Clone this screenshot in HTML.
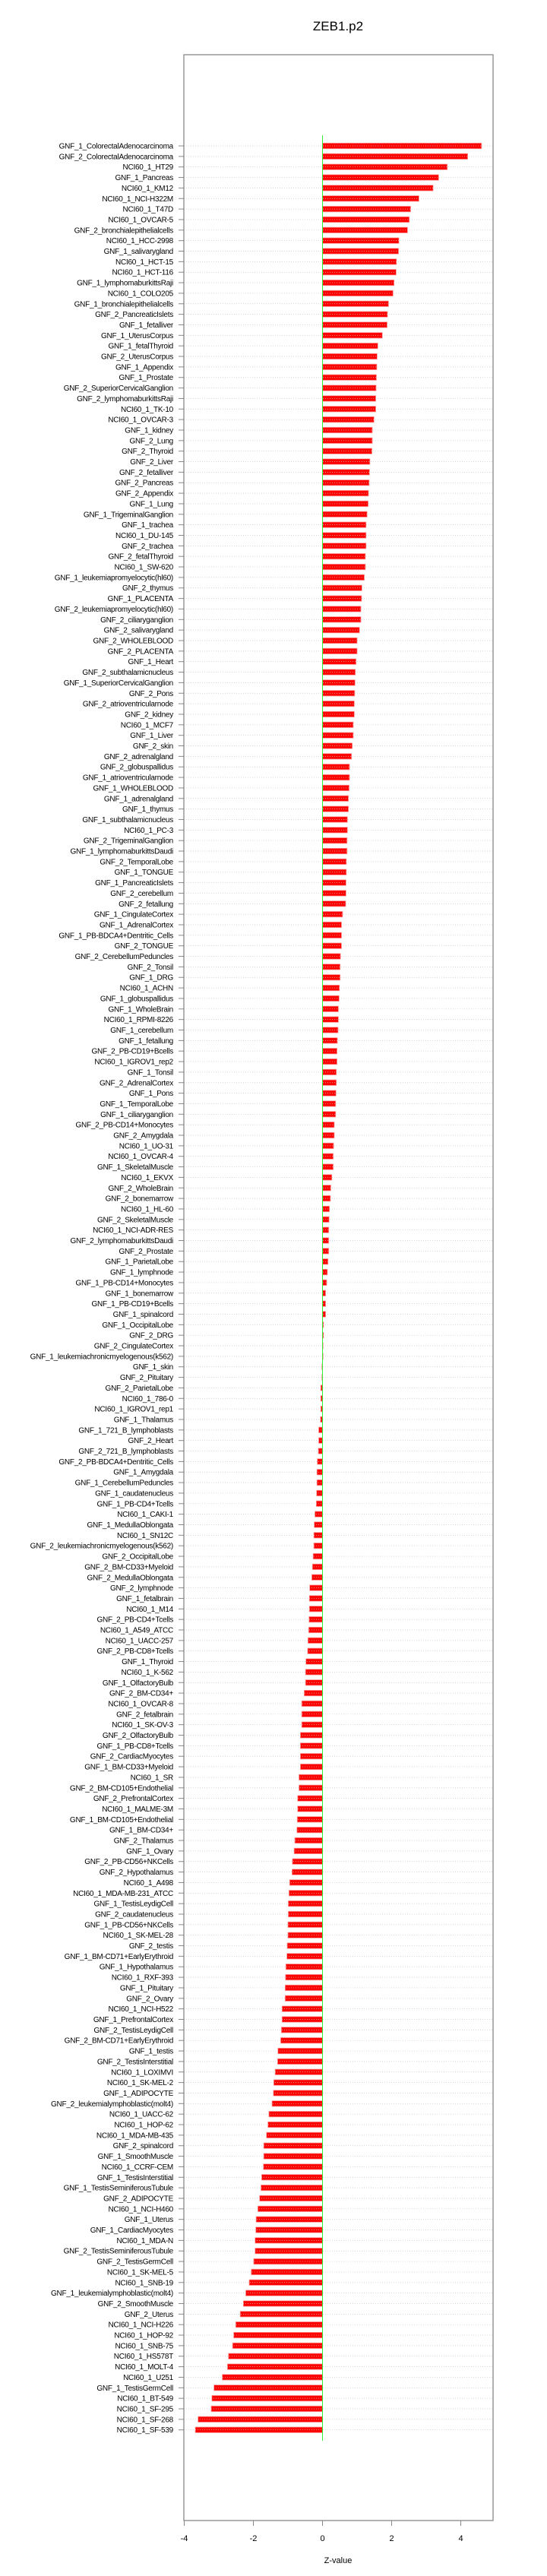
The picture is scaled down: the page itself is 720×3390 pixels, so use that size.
<!DOCTYPE html>
<html><head><meta charset="utf-8">
<style>
html,body{margin:0;padding:0;background:#fff;}
svg{display:block;font-family:"Liberation Sans",Arial,sans-serif;}
</style></head>
<body>
<svg id="chart" width="720" height="3390" viewBox="0 0 720 3390" xmlns="http://www.w3.org/2000/svg">
<text x="445" y="40" text-anchor="middle" font-size="17" fill="#000">ZEB1.p2</text>
<g id="grid"></g>
<g id="bars"></g>
<g id="labels"></g>
<g id="axis"></g>
<text x="445" y="3373" text-anchor="middle" font-size="11" fill="#000">Z-value</text>
</svg>
<script>
const categories = ["GNF_1_ColorectalAdenocarcinoma","GNF_2_ColorectalAdenocarcinoma","NCI60_1_HT29","GNF_1_Pancreas","NCI60_1_KM12","NCI60_1_NCI-H322M","NCI60_1_T47D","NCI60_1_OVCAR-5","GNF_2_bronchialepithelialcells","NCI60_1_HCC-2998","GNF_1_salivarygland","NCI60_1_HCT-15","NCI60_1_HCT-116","GNF_1_lymphomaburkittsRaji","NCI60_1_COLO205","GNF_1_bronchialepithelialcells","GNF_2_PancreaticIslets","GNF_1_fetalliver","GNF_1_UterusCorpus","GNF_1_fetalThyroid","GNF_2_UterusCorpus","GNF_1_Appendix","GNF_1_Prostate","GNF_2_SuperiorCervicalGanglion","GNF_2_lymphomaburkittsRaji","NCI60_1_TK-10","NCI60_1_OVCAR-3","GNF_1_kidney","GNF_2_Lung","GNF_2_Thyroid","GNF_2_Liver","GNF_2_fetalliver","GNF_2_Pancreas","GNF_2_Appendix","GNF_1_Lung","GNF_1_TrigeminalGanglion","GNF_1_trachea","NCI60_1_DU-145","GNF_2_trachea","GNF_2_fetalThyroid","NCI60_1_SW-620","GNF_1_leukemiapromyelocytic(hl60)","GNF_2_thymus","GNF_1_PLACENTA","GNF_2_leukemiapromyelocytic(hl60)","GNF_2_ciliaryganglion","GNF_2_salivarygland","GNF_2_WHOLEBLOOD","GNF_2_PLACENTA","GNF_1_Heart","GNF_2_subthalamicnucleus","GNF_1_SuperiorCervicalGanglion","GNF_2_Pons","GNF_2_atrioventricularnode","GNF_2_kidney","NCI60_1_MCF7","GNF_1_Liver","GNF_2_skin","GNF_2_adrenalgland","GNF_2_globuspallidus","GNF_1_atrioventricularnode","GNF_1_WHOLEBLOOD","GNF_1_adrenalgland","GNF_1_thymus","GNF_1_subthalamicnucleus","NCI60_1_PC-3","GNF_2_TrigeminalGanglion","GNF_1_lymphomaburkittsDaudi","GNF_2_TemporalLobe","GNF_1_TONGUE","GNF_1_PancreaticIslets","GNF_2_cerebellum","GNF_2_fetallung","GNF_1_CingulateCortex","GNF_1_AdrenalCortex","GNF_1_PB-BDCA4+Dentritic_Cells","GNF_2_TONGUE","GNF_2_CerebellumPeduncles","GNF_2_Tonsil","GNF_1_DRG","NCI60_1_ACHN","GNF_1_globuspallidus","GNF_1_WholeBrain","NCI60_1_RPMI-8226","GNF_1_cerebellum","GNF_1_fetallung","GNF_2_PB-CD19+Bcells","NCI60_1_IGROV1_rep2","GNF_1_Tonsil","GNF_2_AdrenalCortex","GNF_1_Pons","GNF_1_TemporalLobe","GNF_1_ciliaryganglion","GNF_2_PB-CD14+Monocytes","GNF_2_Amygdala","NCI60_1_UO-31","NCI60_1_OVCAR-4","GNF_1_SkeletalMuscle","NCI60_1_EKVX","GNF_2_WholeBrain","GNF_2_bonemarrow","NCI60_1_HL-60","GNF_2_SkeletalMuscle","NCI60_1_NCI-ADR-RES","GNF_2_lymphomaburkittsDaudi","GNF_2_Prostate","GNF_1_ParietalLobe","GNF_1_lymphnode","GNF_1_PB-CD14+Monocytes","GNF_1_bonemarrow","GNF_1_PB-CD19+Bcells","GNF_1_spinalcord","GNF_1_OccipitalLobe","GNF_2_DRG","GNF_2_CingulateCortex","GNF_1_leukemiachronicmyelogenous(k562)","GNF_1_skin","GNF_2_Pituitary","GNF_2_ParietalLobe","NCI60_1_786-0","NCI60_1_IGROV1_rep1","GNF_1_Thalamus","GNF_1_721_B_lymphoblasts","GNF_2_Heart","GNF_2_721_B_lymphoblasts","GNF_2_PB-BDCA4+Dentritic_Cells","GNF_1_Amygdala","GNF_1_CerebellumPeduncles","GNF_1_caudatenucleus","GNF_1_PB-CD4+Tcells","NCI60_1_CAKI-1","GNF_1_MedullaOblongata","NCI60_1_SN12C","GNF_2_leukemiachronicmyelogenous(k562)","GNF_2_OccipitalLobe","GNF_2_BM-CD33+Myeloid","GNF_2_MedullaOblongata","GNF_2_lymphnode","GNF_1_fetalbrain","NCI60_1_M14","GNF_2_PB-CD4+Tcells","NCI60_1_A549_ATCC","NCI60_1_UACC-257","GNF_2_PB-CD8+Tcells","GNF_1_Thyroid","NCI60_1_K-562","GNF_1_OlfactoryBulb","GNF_2_BM-CD34+","NCI60_1_OVCAR-8","GNF_2_fetalbrain","NCI60_1_SK-OV-3","GNF_2_OlfactoryBulb","GNF_1_PB-CD8+Tcells","GNF_2_CardiacMyocytes","GNF_1_BM-CD33+Myeloid","NCI60_1_SR","GNF_2_BM-CD105+Endothelial","GNF_2_PrefrontalCortex","NCI60_1_MALME-3M","GNF_1_BM-CD105+Endothelial","GNF_1_BM-CD34+","GNF_2_Thalamus","GNF_1_Ovary","GNF_2_PB-CD56+NKCells","GNF_2_Hypothalamus","NCI60_1_A498","NCI60_1_MDA-MB-231_ATCC","GNF_1_TestisLeydigCell","GNF_2_caudatenucleus","GNF_1_PB-CD56+NKCells","NCI60_1_SK-MEL-28","GNF_2_testis","GNF_1_BM-CD71+EarlyErythroid","GNF_1_Hypothalamus","NCI60_1_RXF-393","GNF_1_Pituitary","GNF_2_Ovary","NCI60_1_NCI-H522","GNF_1_PrefrontalCortex","GNF_2_TestisLeydigCell","GNF_2_BM-CD71+EarlyErythroid","GNF_1_testis","GNF_2_TestisInterstitial","NCI60_1_LOXIMVI","NCI60_1_SK-MEL-2","GNF_1_ADIPOCYTE","GNF_2_leukemialymphoblastic(molt4)","NCI60_1_UACC-62","NCI60_1_HOP-62","NCI60_1_MDA-MB-435","GNF_2_spinalcord","GNF_1_SmoothMuscle","NCI60_1_CCRF-CEM","GNF_1_TestisInterstitial","GNF_1_TestisSeminiferousTubule","GNF_2_ADIPOCYTE","NCI60_1_NCI-H460","GNF_1_Uterus","GNF_1_CardiacMyocytes","NCI60_1_MDA-N","GNF_2_TestisSeminiferousTubule","GNF_2_TestisGermCell","NCI60_1_SK-MEL-5","NCI60_1_SNB-19","GNF_1_leukemialymphoblastic(molt4)","GNF_2_SmoothMuscle","GNF_2_Uterus","NCI60_1_NCI-H226","NCI60_1_HOP-92","NCI60_1_SNB-75","NCI60_1_HS578T","NCI60_1_MOLT-4","NCI60_1_U251","GNF_1_TestisGermCell","NCI60_1_BT-549","NCI60_1_SF-295","NCI60_1_SF-268","NCI60_1_SF-539"];
const values = [4.6,4.2,3.61,3.36,3.20,2.79,2.55,2.51,2.46,2.21,2.20,2.14,2.13,2.07,2.04,1.91,1.88,1.87,1.73,1.60,1.58,1.57,1.56,1.55,1.54,1.54,1.49,1.44,1.44,1.43,1.37,1.36,1.35,1.33,1.32,1.29,1.26,1.26,1.26,1.24,1.24,1.21,1.14,1.13,1.11,1.11,1.07,1.00,1.00,0.97,0.95,0.94,0.93,0.92,0.92,0.89,0.89,0.86,0.84,0.78,0.78,0.77,0.75,0.75,0.72,0.72,0.71,0.71,0.69,0.69,0.68,0.68,0.67,0.58,0.55,0.55,0.55,0.52,0.51,0.51,0.49,0.48,0.46,0.46,0.45,0.43,0.42,0.42,0.40,0.40,0.39,0.38,0.38,0.34,0.34,0.32,0.31,0.31,0.27,0.24,0.23,0.20,0.19,0.18,0.18,0.18,0.16,0.14,0.12,0.09,0.09,0.09,0.03,0.03,0.02,0.02,-0.02,-0.02,-0.05,-0.05,-0.05,-0.06,-0.11,-0.11,-0.12,-0.15,-0.16,-0.16,-0.17,-0.18,-0.22,-0.24,-0.25,-0.25,-0.27,-0.29,-0.31,-0.37,-0.38,-0.38,-0.39,-0.40,-0.42,-0.43,-0.48,-0.49,-0.49,-0.53,-0.60,-0.60,-0.60,-0.64,-0.64,-0.64,-0.64,-0.68,-0.68,-0.72,-0.72,-0.73,-0.74,-0.80,-0.82,-0.87,-0.88,-0.95,-0.97,-0.99,-0.99,-1.00,-1.00,-1.02,-1.03,-1.06,-1.07,-1.08,-1.08,-1.17,-1.17,-1.19,-1.21,-1.29,-1.30,-1.37,-1.41,-1.42,-1.46,-1.55,-1.58,-1.62,-1.70,-1.70,-1.71,-1.76,-1.78,-1.82,-1.87,-1.92,-1.93,-1.95,-1.95,-1.99,-2.06,-2.12,-2.22,-2.29,-2.38,-2.51,-2.57,-2.60,-2.72,-2.75,-2.90,-3.14,-3.20,-3.22,-3.60,-3.68];
const xTicks = [-4,-2,0,2,4];
const xTickLabels = ["-4","-2","0","2","4"];

const NS = "http://www.w3.org/2000/svg";
const L = 242, R = 649, T = 72, B = 3317;
const X0 = 424.5, UNIT = 45.5;
const Y0 = 192, STEP = (3197.7 - 192) / (categories.length - 1), BH = 7.4;
function xs(v){ return X0 + v * UNIT; }
function ys(i){ return Y0 + i * STEP; }
function mk(tag, attrs, parent){
  const e = document.createElementNS(NS, tag);
  for (const k in attrs) e.setAttribute(k, attrs[k]);
  parent.appendChild(e); return e;
}
const svg = document.getElementById('chart');
const gGrid = document.getElementById('grid'), gBars = document.getElementById('bars'),
      gLab = document.getElementById('labels'), gAx = document.getElementById('axis');

categories.forEach((c, i) => {
  const y = ys(i), v = values[i];
  const x1 = Math.min(xs(0), xs(v)), w = Math.max(Math.abs(xs(v) - xs(0)), 0.8);
  const bar = mk('rect', {x: x1, y: y - BH/2, width: w, height: BH, fill: '#ff0000', stroke: '#ff9a9a', 'stroke-width': 0.8}, gBars);
  
  
  const gl = mk('line', {x1: L, x2: R, y1: y, y2: y, stroke: '#c8c8c8', 'stroke-width': 0.7, 'stroke-dasharray': '1 2'}, gLab);
  
  
  const tk = mk('line', {x1: 235, x2: L, y1: y, y2: y, stroke: '#888', 'stroke-width': 1}, gAx);
  
  
  const t = mk('text', {x: 228, y: y + 3.5, 'text-anchor': 'end', 'font-size': 10, 'letter-spacing': '-0.25', fill: '#000'}, gAx);
  t.textContent = c;
  
  
});

const zl = mk('line', {x1: xs(0), x2: xs(0), y1: 178, y2: 3212, stroke: '#33ee33', 'stroke-width': 1}, gAx);



const box = mk('rect', {x: L, y: T, width: R - L, height: B - T, fill: 'none', stroke: '#888', 'stroke-width': 1.3}, gAx);



xTicks.forEach((v, i) => {
  const tl = mk('line', {x1: xs(v), x2: xs(v), y1: B, y2: B + 7, stroke: '#888', 'stroke-width': 1}, gAx);
  
  
  const tt = mk('text', {x: xs(v), y: 3344, 'text-anchor': 'middle', 'font-size': 11, fill: '#000'}, gAx);
  tt.textContent = xTickLabels[i];
  
  
});
</script>
</body></html>
